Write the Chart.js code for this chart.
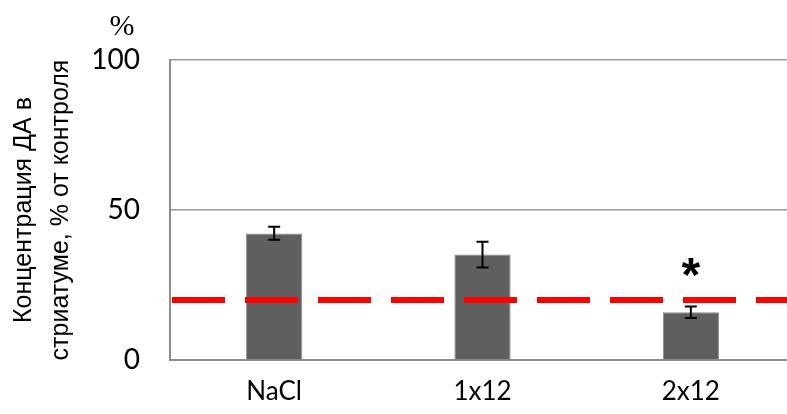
<!DOCTYPE html>
<html>
<head>
<meta charset="utf-8">
<script src="https://cdn.jsdelivr.net/npm/chart.js@4.4.1/dist/chart.umd.min.js"></script>
<style>
  html, body { margin: 0; padding: 0; background: #fff; overflow: hidden; }
  #wrap { position: relative; width: 795px; height: 414px; }
</style>
</head>
<body>
<div id="wrap"><canvas id="chart"></canvas></div>
<script>
// data
const groups = ['NaCl', '1x12', '2x12'];
const dopamine = [42.2, 35.2, 15.9];
const errLow = [40.1, 30.8, 14.0];
const errHigh = [44.4, 39.4, 17.8];
const marks = ['', '', '*'];
const controlLevel = 20;
const yTicks = [0, 50, 100];

const extras = {
  id: 'extras',
  afterDatasetsDraw(chart) {
    const { ctx, chartArea, scales: { x, y } } = chart;
    ctx.save();
    // reference level
    ctx.strokeStyle = '#ff0000';
    ctx.lineWidth = 6;
    ctx.setLineDash([53, 20]);
    const ly = y.getPixelForValue(controlLevel);
    ctx.beginPath();
    ctx.moveTo(chartArea.left + 2, ly);
    ctx.lineTo(chartArea.right, ly);
    ctx.stroke();
    ctx.setLineDash([]);
    // error bars
    ctx.strokeStyle = '#000';
    ctx.lineWidth = 2;
    groups.forEach((g, i) => {
      const cx = x.getPixelForValue(i);
      const t = y.getPixelForValue(errHigh[i]);
      const b = y.getPixelForValue(errLow[i]);
      ctx.beginPath();
      ctx.moveTo(cx, t); ctx.lineTo(cx, b);
      ctx.moveTo(cx - 6, t); ctx.lineTo(cx + 6, t);
      ctx.moveTo(cx - 6, b); ctx.lineTo(cx + 6, b);
      ctx.stroke();
      if (marks[i]) {
        ctx.fillStyle = '#000';
        ctx.font = 'bold 48px "Liberation Sans"';
        ctx.textAlign = 'center';
        ctx.textBaseline = 'alphabetic';
        ctx.fillText(marks[i], cx, t - 16);
      }
    });
    // unit above the axis
    ctx.fillStyle = '#000';
    ctx.font = '30px "Liberation Serif"';
    ctx.textAlign = 'center';
    ctx.textBaseline = 'middle';
    ctx.fillText('%', 122, 27);
    ctx.restore();
  }
};

new Chart(document.getElementById('chart'), {
  type: 'bar',
  data: {
    labels: groups,
    datasets: [{
      data: dopamine,
      backgroundColor: '#5f5f5f',
      borderColor: '#8a8a8a',
      borderWidth: 1,
      barPercentage: 0.27,
      categoryPercentage: 1
    }]
  },
  options: {
    responsive: true,
    maintainAspectRatio: false,
    animation: false,
    layout: { padding: { top: 60, left: 0, right: 0, bottom: 0 } },
    plugins: { legend: { display: false }, tooltip: { enabled: false } },
    scales: {
      x: {
        grid: { display: false },
        border: { color: '#8c8c8c', width: 2 },
        ticks: { color: '#000', font: { family: 'Lato', size: 26 }, padding: 8 },
        afterFit(s) { s.height = 54; }
      },
      y: {
        min: 0, max: 100,
        afterBuildTicks(s) { s.ticks = yTicks.map(v => ({ value: v })); },
        grid: { color: '#9a9a9a', lineWidth: 1.5, drawTicks: false },
        border: { color: '#8c8c8c', width: 2 },
        ticks: { color: '#000', font: { family: 'Lato', size: 28 }, padding: 30 },
        title: {
          display: true,
          text: ['Концентрация ДА в', 'стриатуме, % от контроля'],
          color: '#000',
          font: { family: 'Liberation Sans', size: 25, lineHeight: 1.5 },
          padding: { top: 5, bottom: 0 }
        },
        afterFit(s) { s.width = 170; }
      }
    }
  },
  plugins: [extras]
});
</script>
</body>
</html>
